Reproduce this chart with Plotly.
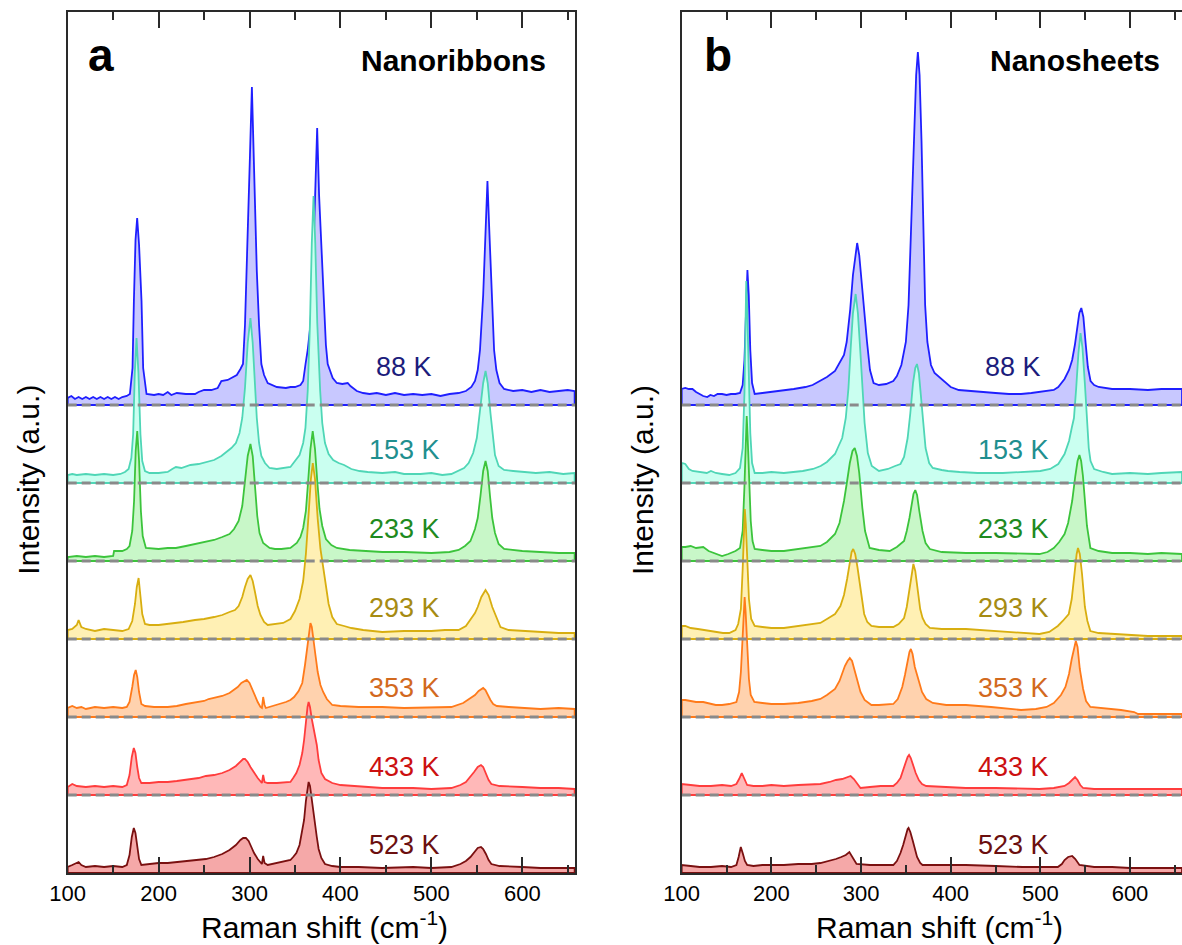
import plotly.graph_objects as go

# ---------------- data (wavenumber, intensity above the spectrum's baseline) -------------
temps = ["88 K", "153 K", "233 K", "293 K", "353 K", "433 K", "523 K"]
offsets = [468, 390, 312, 234, 156, 78, 0]

a_88k = [[100,7],[104,9],[108,6],[112,8],[116,6],[120,8],[124,6],[128,8],[132,6],[136,8],[140,6],[144,8],[148,6],[152,8],[156,6],[160,8],[165,9],[168.4,11],[171.3,37],[172.8,104],[174.6,165],[176.4,187],[178.5,160],[181.2,104],[183,37],[186.7,11],[195,10],[200,11],[205,10],[210,13],[214,10],[220,12],[230,11],[240,11],[244,13],[250,15],[258,15],[265,17],[269,24],[276,25],[282,28],[286,30],[290,36],[292.8,41],[295,80],[297,134],[300.5,250],[302.6,318],[304.5,250],[308,134],[310.5,80],[313,41],[316,30],[320,22],[330,18],[340,17],[345,18],[350,18],[356,20],[359,24],[361.6,41],[364,55],[367,80],[369.6,134],[372.5,220],[374.4,277],[376.5,210],[379.9,134],[382,90],[384,60],[386,41],[391.5,27],[396,22],[402,21],[408,22],[411,19],[418,14],[425,12],[432,11],[440,12],[450,10],[460,12],[470,10],[480,11],[490,10],[500,11],[510,9],[520,11],[530,12],[538,14],[544,18],[548,24],[551,35],[553.5,55],[557,110],[560,190],[561.7,224],[563.5,180],[566.5,110],[569,55],[571.5,35],[575,22],[580,16],[590,14],[600,15],[610,13],[620,15],[630,13],[640,14],[650,15],[657.6,14]]
a_153k = [[100,8],[105,9],[110,8],[120,9],[130,8],[140,9],[150,8],[158,9],[163,11],[167,14],[170,25],[172,49],[173.8,110],[175.7,145],[177.8,110],[180,49],[182,22],[185,12],[190,10],[200,10],[210,11],[215,14],[219,16],[225,15],[235,18],[244,19],[252,21],[261,23],[269,27],[275,31],[280,35],[285,40],[289,50],[292,65],[295,95],[298,140],[301,165],[303.5,140],[306,95],[308,65],[310.5,40],[313,27],[317,20],[322,15],[330,14],[340,15],[345,16],[350,22],[355,28],[359,40],[361.5,55],[364,92],[366.5,160],[368.5,240],[370.4,287],[372.3,240],[374.5,160],[377.7,92],[380,60],[383,40],[387,29],[392,23],[398,20],[404,18],[412,14],[421,12],[430,11],[446,10],[460,11],[470,9],[488,9],[500,10],[512,8],[522,9],[530,12],[536,15],[541,20],[546,30],[550,45],[553.5,70],[557,100],[559.6,112],[562,100],[565,70],[567.5,45],[570,28],[574,17],[580,13],[590,12],[600,11],[615,10],[630,11],[645,9],[657.6,10]]
a_233k = [[100,4],[110,5],[120,4],[130,5],[140,4],[150,5],[151,10],[160,10],[165,12],[168,15],[171,30],[173,60],[174.8,110],[176.5,130],[178.5,100],[180.5,50],[182.5,25],[186,13],[200,12],[210,13],[219,13],[230,15],[240,17],[250,19],[261,21],[270,24],[278,27],[283,32],[288,40],[292,55],[295,77],[298,105],[301,117],[303.5,105],[306,75],[308.5,45],[311,28],[315,18],[322,13],[328,12],[335,12],[345,13],[352,18],[356,24],[359,33],[362,50],[364.5,80],[367,112],[369.5,130],[372,112],[374.5,80],[377,52],[380,35],[384,22],[390,16],[396,13],[410,11],[430,10],[446,9],[470,9],[500,8],[520,9],[530,11],[537,15],[543,20],[548,32],[551,43],[554,65],[557,90],[559.6,100],[562,90],[564.5,65],[567,43],[570,28],[574,17],[580,12],[600,10],[620,9],[640,8],[657.6,8]]
a_293k = [[100,9],[105,10],[110,14],[112,19],[115,12],[120,10],[130,8],[140,10],[150,9],[160,8],[167,10],[171,18],[174,35],[176,52],[178,61],[180,45],[182,25],[185,15],[190,14],[200,14],[210,15],[220,16],[227,17],[240,19],[250,20],[261,22],[270,24],[278,27],[284,29],[288,33],[292,42],[295,52],[298,60],[301,64],[303.5,58],[306,47],[309,33],[312,24],[316,17],[320,14],[328,15],[337,16],[341,18],[345,20],[350,28],[355,40],[359,58],[362,85],[365,125],[367.5,160],[369.6,176],[372,160],[375,120],[378,90],[381,72],[384,52],[387,35],[391,22],[396,15],[404,13],[412,11],[425,9],[446,7],[470,8],[500,8],[515,9],[530,9],[538,13],[543,19],[548,26],[551,32],[555,42],[559.6,49],[563,44],[567,32],[570,25],[573,17],[576,12],[585,9],[600,8],[620,7],[640,6],[657.6,6]]
a_353k = [[100,9],[105,11],[110,9],[115,10],[120,8],[130,10],[140,9],[150,10],[160,9],[165,10],[168,15],[171,30],[173,42],[174.8,47],[176.5,40],[178.5,25],[181,13],[185,11],[195,10],[210,10],[220,11],[230,13],[244,15],[250,16],[255,18],[261,19],[270,21],[278,24],[283,27],[287,30],[291,34],[295,36.5],[297,37],[300,34],[303,27],[306,21],[309,15],[312,10],[313.6,9],[315,20],[316.5,12],[318,9],[322,10],[328,12],[335,13],[340,15],[345,17],[349,20],[354,26],[358,34],[361,52],[363.5,72],[365.5,88],[367,94],[368.5,90],[370.5,78],[372.5,62],[375,45],[378,32],[381,25],[385,18],[391,12],[400,11],[420,10],[446,10],[470,9],[500,10],[522,10],[535,14],[543,19],[548,22],[552,26],[555,28],[557,29],[559.5,27],[562,22],[565,17],[568,13],[572,11],[585,10],[600,9],[620,8],[640,9],[657.6,8]]
a_433k = [[100,8],[105,11],[110,9],[120,8],[130,9],[140,8],[150,9],[160,8],[165,10],[168,20],[170.5,38],[172.7,47],[174.5,42],[176.5,28],[178.5,17],[181,12],[190,12],[200,13],[210,13],[220,14],[230,15],[244,17],[252,19],[261,20],[270,22],[278,25],[285,29],[290,34],[293,36],[295,36],[298,33],[301,28],[305,22],[309,17],[313.6,12],[315,20],[316.5,13],[320,12],[330,12],[345,13],[348,17],[351.5,22],[355,30],[358,42],[360,55],[362,75],[363.8,88],[365,93],[366.5,88],[368.5,76],[370.5,66],[372,62],[374,50],[376,35],[379,22],[383,16],[391,12],[400,10],[420,9],[446,7],[480,7],[500,6],[522,7],[532,10],[538,13],[543,18],[547,23],[551,28],[554.6,30],[557,28],[560,22],[563,15],[566,11],[575,9],[600,8],[620,7],[640,7],[657.6,6]]
a_523k = [[100,6],[105,8],[110,10],[112,11],[115,8],[120,6],[130,7],[140,6],[150,7],[160,6],[165,8],[168,18],[170.5,36],[172.7,45],[174.5,40],[176.5,26],[178.5,14],[181,8],[190,9],[200,10],[210,10],[220,11],[230,12],[244,13],[252,14],[261,16],[270,19],[278,23],[285,28],[290,33],[293,35],[296,35],[299,32],[302,26],[305,20],[309,14],[313.6,9],[315,17],[316.5,10],[320,8],[330,10],[345,13],[348,16],[351.5,20],[355,28],[358,42],[360,53],[362,72],[363.8,86],[365,91],[366.5,87],[368.5,72],[370.5,60],[372,50],[374,36],[376,24],[379,15],[383,9],[391,7],[400,6],[420,6],[446,5],[480,6],[500,5],[522,6],[532,9],[538,12],[543,16],[547,21],[551,25],[554.6,26],[557,24],[560,19],[563,13],[566,9],[575,7],[600,6],[620,5],[640,5],[657.6,5]]

b_88k = [[100,16],[104,17],[108,16],[112,16],[116,13],[120,11],[124,9],[128.5,8],[132,10],[136,9],[140,11],[145,11],[150,10],[155,11],[160,11],[165,12],[168,20],[170,45],[171.8,100],[173.3,135],[174.8,110],[176.5,55],[178.5,22],[181.4,11],[190,12],[200,13],[206,14],[215,15],[225,16],[238,18],[246,20],[252,23],[262,28],[271,34],[277,43],[281,50],[284,63],[288,96],[291,130],[293.5,150],[295.7,162],[298,150],[300,130],[303,96],[306.7,63],[310,35],[314,22],[320,20],[328,21],[336,24],[340,29],[345,40],[350,63],[353,100],[355.3,163],[357,220],[359,263],[361.5,330],[363.4,353],[365.3,330],[367.5,263],[369.6,163],[371.5,100],[374,63],[378,40],[382,32],[388,27],[393,23],[400,18],[409,15],[420,14],[438,13],[450,12],[465,11],[478.5,11],[490,12],[500,13],[510,14],[515,15],[520,18],[527,26],[532,35],[535.5,45],[538.5,60],[541.5,80],[543.5,92],[545.7,97],[548,88],[550.5,62],[553,38],[556,24],[560,20],[565,18],[580,16],[600,16],[620,15],[635,16],[658,16]]
b_153k = [[100,20],[104,19],[108,14],[112,12],[120,11],[128,10],[132.6,12],[138,10],[145,9],[153,8],[160,10],[165,15],[168,35],[170,90],[171.2,160],[172,202],[173,175],[174.5,110],[176.5,50],[178.5,20],[181.4,10],[190,10],[200,11],[214,10],[225,11],[235,12],[246.5,14],[255,17],[262,21],[271,29],[275,37],[279,45],[283,65],[286,95],[288.5,135],[291,170],[294,189],[296.5,170],[299,135],[301.5,95],[304,60],[307.6,30],[312,17],[320,12],[330,14],[338,17],[344,19],[348,26],[352,45],[355,70],[358,100],[360.5,115],[362.4,119],[364.5,110],[367,85],[369.5,55],[372,35],[376,20],[380,15],[390,13],[397,12],[410,11],[430,10],[458,10],[480,11],[500,12],[511,14],[520,19],[527,29],[532,42],[535,55],[537.5,65],[540,95],[542.5,130],[544.8,150],[547,135],[549.7,99],[552,60],[554,35],[556,22],[560,14],[570,11],[580,9],[600,10],[620,9],[635,10],[658,11]]
b_233k = [[100,14],[104,14],[110,15],[116,13],[124,14],[130,10],[138,7],[145,5],[152,7],[160,10],[165,13],[168,30],[170,75],[171.5,125],[172.5,145],[173.5,125],[175,80],[177,40],[179,20],[181.4,12],[190,11],[200,10],[214,10],[230,12],[245,14],[254.7,15],[262,19],[271,27],[276,38],[281,60],[284.5,80],[287.5,98],[290.5,110],[293,113],[295.5,105],[298,88],[301.5,53],[304.5,30],[309.6,13],[320,11],[332,10],[340,14],[348,20],[351,30],[354,43],[356.5,58],[358.5,67],[360.5,71],[362.5,66],[365,50],[368.6,30],[372,18],[376.8,12],[390,9],[417,8],[450,8],[480,7],[499,7],[508,9],[515,13],[521,19],[527,27],[531,38],[535.5,60],[539,85],[541.5,100],[543.6,106],[545.5,100],[547.5,85],[549.7,60],[552,35],[555.8,13],[565,10],[580,8],[600,8],[620,7],[635,8],[658,7]]
b_293k = [[100,13],[104,13],[110,11],[118,10],[125,9],[132.6,8],[140,7],[146,6],[153,6],[160,9],[163,15],[166,30],[168,70],[169.3,110],[170.4,130],[171.5,115],[173,75],[175,40],[177.5,20],[181.4,13],[190,12],[200,11],[214,11],[230,13],[245,15],[254.7,16],[262,20],[271,25],[277,33],[281,44],[284.5,60],[287.5,78],[289.5,87],[291.3,90],[293.5,85],[296,72],[298.5,55],[301,38],[303.5,25],[307,17],[311.6,13],[320,12],[336,12],[342,15],[348,21],[351,32],[354,50],[356.5,68],[358.4,75],[360.5,68],[363,50],[366,30],[368.6,21],[372,15],[376.8,11],[390,10],[417,10],[450,8],[480,6],[499,5],[510,7],[519.5,13],[525,18],[531.7,25],[535,40],[538,65],[540.5,85],[542,91],[544,85],[546.5,65],[549.7,32],[552.5,18],[555.8,8],[565,6],[580,5],[600,4],[620,3],[658,3]]
b_353k = [[100,17],[104,17],[110,16],[116,15],[124,15],[130,14],[138,12],[145,12],[153,13],[161,15],[164,25],[166,45],[168,85],[169.2,110],[170.2,120],[171.3,105],[173,70],[175,38],[177,22],[181,15],[190,14],[200,13],[214,13],[230,14],[245,16],[254.7,18],[262,22],[271,28],[276,36],[279,44],[282,51],[285,56],[287.5,59],[290,56],[292.5,48],[295,38],[297.5,30],[299.4,25],[304,17],[311.6,12],[320,12],[336,13],[341,18],[346,30],[349,42],[352,57],[354,65],[355.6,68],[357.5,63],[360,50],[362.5,42],[364.5,36],[368,25],[372.7,18],[380,14],[395,12],[417,12],[445,10],[478.5,7],[495,8],[507,10],[515,14],[523,22],[528,30],[532,43],[535,58],[537.5,70],[539.6,76],[541.5,70],[544,48],[547.7,28],[551,16],[555.8,10],[570,9],[590,7],[604.6,5],[609,3],[630,3],[658,3]]
b_433k = [[100,11],[110,10],[120,9],[132.6,9],[145,10],[155,9],[161,11],[164,16],[167,22],[169.5,17],[173,10],[180,9],[190,9],[200,10],[214,9],[230,10],[245,11],[254.7,11],[265,13],[272,15],[279,16],[284,18],[288.4,19],[292,16],[296,11],[299.4,7],[310,8],[322,9],[336,9],[340,12],[344,17],[347,24],[350,33],[352,38],[353.6,40],[355.5,37],[358,30],[361,22],[364.5,15],[368,11],[372.7,9],[390,8],[417,7],[450,7],[480,6],[499,6],[515,7],[527,9],[532,12],[535.5,15],[538.7,18],[541.5,15],[544.5,10],[547.7,7],[560,6],[580,6],[600,6],[620,6],[658,6]]
b_523k = [[100,8],[110,7],[120,6],[132.6,6],[145,7],[155,6],[161,8],[163.5,16],[165.9,26],[168,20],[170.5,12],[173,8],[180,7],[190,8],[200,8],[214,8],[230,9],[245,9],[254.7,10],[265,12],[272,14],[278,16],[283,18],[287,21],[290,16],[293,12],[295,9],[310,8],[322,8],[336,8],[340,12],[344,20],[347,28],[350,38],[352,44],[353,45],[355,41],[357.5,33],[360,24],[362.5,16],[366,10],[368.6,8],[390,8],[417,8],[450,7],[480,6],[519.5,6],[524,9],[527,13],[531,16],[535.5,17],[539,14],[543.6,8],[560,6],[580,6],[600,5],[620,5],[658,5]]

panel_a = [a_88k, a_153k, a_233k, a_293k, a_353k, a_433k, a_523k]
panel_b = [b_88k, b_153k, b_233k, b_293k, b_353k, b_433k, b_523k]

x_ticks = [100, 200, 300, 400, 500, 600]
x_range = [100, 658]

# ---------------- styles ----------------
line_colors = ["#1f1fff", "#4fd6b6", "#3cc43c", "#d8ae10", "#ff7a1a", "#ff3c3c", "#7a1010"]
fill_colors = ["#c8c8ff", "#cafff0", "#c8f7c8", "#fff0b4", "#ffd2ae", "#ffb8b8", "#f5a8a8"]
text_colors = ["#1c1c7c", "#1f8f8f", "#1e8a1e", "#a68b12", "#d2691e", "#cc1010", "#6b0f0f"]
label_y_px = [367.5, 450, 529, 608, 687.5, 767, 845]

FONT = "Arial, Liberation Sans, sans-serif"
W, H = 1182, 945
Y_BOTTOM_PX = 873
Y_TOP_PX = 12
Y_MAX = Y_BOTTOM_PX - Y_TOP_PX


def px_x(p):
    return p / W


def px_y(p):
    return 1 - p / H


fig = go.Figure()


def add_panel(spectra, xa, ya):
    for k, spec in enumerate(spectra):
        off = offsets[k]
        xs = [p[0] for p in spec]
        ys = [off + p[1] for p in spec]
        fig.add_trace(go.Scatter(
            x=[xs[0]] + xs + [xs[-1], xs[0]],
            y=[off] + ys + [off, off],
            mode="lines", fill="toself", fillcolor=fill_colors[k],
            line=dict(color=line_colors[k], width=1.8),
            xaxis=xa, yaxis=ya, showlegend=False, hoverinfo="skip"))
    for k in range(len(spectra) - 1):
        off = offsets[k]
        fig.add_trace(go.Scatter(
            x=x_range, y=[off, off], mode="lines",
            line=dict(color="#8a8a8a", width=3, dash="9px,5px"),
            xaxis=xa, yaxis=ya, showlegend=False, hoverinfo="skip"))
    for k in range(len(spectra)):
        fig.add_annotation(
            x=470, y=Y_BOTTOM_PX - label_y_px[k], xref=xa, yref=ya,
            text=temps[k], showarrow=False, xanchor="center", yanchor="middle",
            font=dict(family=FONT, size=27, color=text_colors[k]))


add_panel(panel_a, "x", "y")
add_panel(panel_b, "x2", "y2")

axis_common = dict(
    showline=True, linecolor="#2a2a2a", linewidth=1.6,
    ticks="inside", ticklen=16, tickwidth=1.5, tickcolor="#2a2a2a",
    tickvals=x_ticks, ticktext=[str(v) for v in x_ticks],
    tickfont=dict(family=FONT, size=22, color="black"),
    minor=dict(ticks="inside", ticklen=8, tickwidth=1.5, tickcolor="#2a2a2a",
               tick0=150, dtick=100, showgrid=False),
    showgrid=False, zeroline=False, mirror="ticks", range=x_range, automargin=False,
)
y_common = dict(range=[0, Y_MAX], showline=True, linecolor="#2a2a2a", linewidth=1.6,
                showticklabels=False, ticks="", showgrid=False, zeroline=False,
                automargin=False, title=None)
y_dom = [px_y(Y_BOTTOM_PX), px_y(Y_TOP_PX)]
fig.update_layout(
    width=W, height=H, autosize=False,
    margin=dict(l=0, r=0, t=0, b=0, pad=0, autoexpand=False),
    paper_bgcolor="white", plot_bgcolor="white",
    xaxis=dict(domain=[px_x(67.7), px_x(575)], anchor="y", **axis_common),
    xaxis2=dict(domain=[px_x(681.7), 1.0], anchor="y2", **axis_common),
    yaxis=dict(domain=y_dom, anchor="x", mirror=True, **y_common),
    yaxis2=dict(domain=y_dom, anchor="x2", mirror=False, **y_common),
)

title_font = dict(family=FONT, size=30, color="black")
fig.add_annotation(x=px_x(325), y=px_y(925), xref="paper", yref="paper",
                   text="Raman shift (cm<sup>-1</sup>)", showarrow=False,
                   xanchor="center", yanchor="middle", font=title_font)
fig.add_annotation(x=px_x(939), y=px_y(925), xref="paper", yref="paper",
                   text="Raman shift (cm<sup>-1</sup>)", showarrow=False,
                   xanchor="center", yanchor="middle", font=title_font)
fig.add_annotation(x=px_x(27.7), y=px_y(480), xref="paper", yref="paper",
                   text="Intensity (a.u.)", showarrow=False, textangle=-90,
                   xanchor="center", yanchor="middle", font=title_font)
fig.add_annotation(x=px_x(642), y=px_y(480), xref="paper", yref="paper",
                   text="Intensity (a.u.)", showarrow=False, textangle=-90,
                   xanchor="center", yanchor="middle", font=title_font)

letter_font = dict(family=FONT, size=46, color="black")
fig.add_annotation(x=px_x(86), y=px_y(55), xref="paper", yref="paper", text="<b>a</b>",
                   showarrow=False, xanchor="left", yanchor="middle", font=letter_font)
fig.add_annotation(x=px_x(702), y=px_y(55), xref="paper", yref="paper", text="<b>b</b>",
                   showarrow=False, xanchor="left", yanchor="middle", font=letter_font)
name_font = dict(family=FONT, size=30, color="black")
fig.add_annotation(x=px_x(548), y=px_y(60), xref="paper", yref="paper", text="<b>Nanoribbons</b>",
                   showarrow=False, xanchor="right", yanchor="middle", font=name_font)
fig.add_annotation(x=px_x(1162), y=px_y(60), xref="paper", yref="paper", text="<b>Nanosheets</b>",
                   showarrow=False, xanchor="right", yanchor="middle", font=name_font)

# the page's default 8px body margin would shift the picture; remove it
fig.write_html("out.html", config={"displayModeBar": False},
               post_script="document.body.style.margin='0px';document.body.style.overflow='hidden';")
